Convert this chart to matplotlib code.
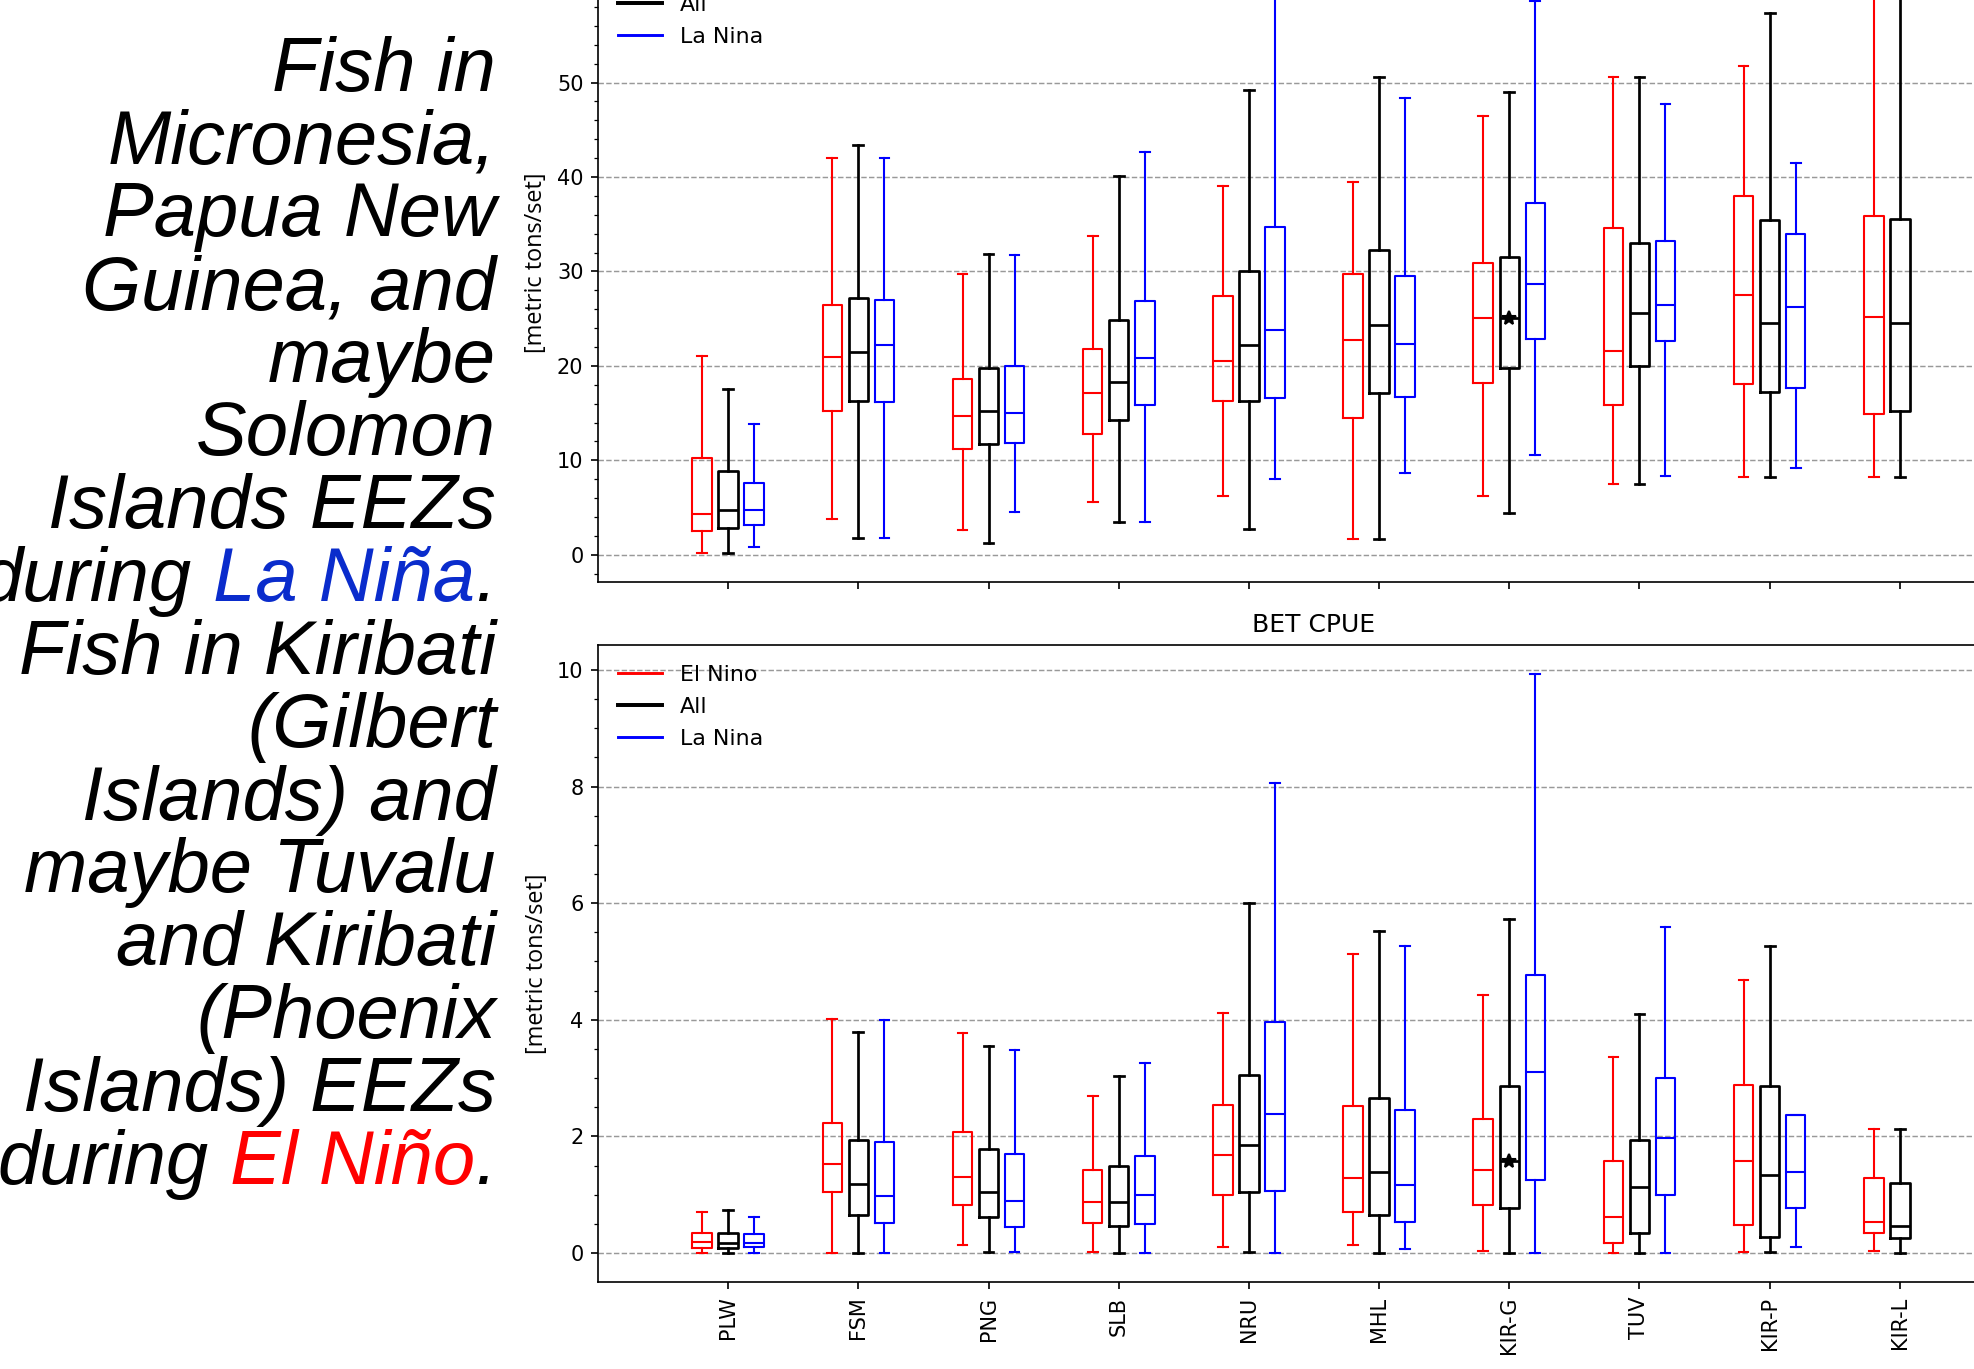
import numpy as np
import matplotlib
matplotlib.use('Agg')
import matplotlib.pyplot as plt
from matplotlib.lines import Line2D

regions = ['PLW', 'FSM', 'PNG', 'SLB', 'NRU', 'MHL', 'KIR-G', 'TUV', 'KIR-P', 'KIR-L']

# five-number summaries: (low whisker, q1, median, q3, high whisker)
top_elnino = [(0.2, 2.5, 4.3, 10.2, 21.0), (3.8, 15.2, 20.9, 26.4, 42.0),
              (2.6, 11.2, 14.7, 18.6, 29.7), (5.6, 12.8, 17.1, 21.8, 33.8),
              (6.2, 16.3, 20.5, 27.4, 39.0), (1.7, 14.5, 22.7, 29.7, 39.5),
              (6.2, 18.2, 25.1, 30.9, 46.5), (7.5, 15.9, 21.6, 34.6, 50.6),
              (8.2, 18.1, 27.5, 38.0, 51.8), (8.2, 14.9, 25.2, 35.9, 61.5)]
top_all = [(0.2, 2.8, 4.8, 8.9, 17.6), (1.8, 16.3, 21.5, 27.2, 43.4),
           (1.3, 11.7, 15.2, 19.8, 31.9), (3.5, 14.3, 18.3, 24.9, 40.1),
           (2.7, 16.3, 22.2, 30.0, 49.2), (1.7, 17.1, 24.3, 32.3, 50.6),
           (4.4, 19.8, 25.1, 31.5, 49.0), (7.5, 20.0, 25.6, 33.0, 50.6),
           (8.2, 17.2, 24.5, 35.4, 57.4), (8.2, 15.2, 24.5, 35.6, 61.7)]
top_lanina = [(0.8, 3.2, 4.8, 7.6, 13.9), (1.8, 16.2, 22.2, 27.0, 42.0),
              (4.5, 11.8, 15.0, 20.0, 31.7), (3.5, 15.9, 20.8, 26.9, 42.7),
              (8.0, 16.6, 23.8, 34.7, 60.5), (8.7, 16.7, 22.3, 29.5, 48.4),
              (10.6, 22.8, 28.7, 37.2, 58.6), (8.4, 22.6, 26.5, 33.2, 47.7),
              (9.2, 17.7, 26.2, 34.0, 41.5), None]

bet_elnino = [(0.0, 0.08, 0.19, 0.35, 0.71), (0.0, 1.04, 1.53, 2.23, 4.02),
              (0.13, 0.83, 1.30, 2.07, 3.78), (0.01, 0.52, 0.87, 1.43, 2.69),
              (0.11, 1.00, 1.68, 2.54, 4.12), (0.14, 0.70, 1.29, 2.52, 5.13),
              (0.04, 0.82, 1.42, 2.29, 4.43), (0.0, 0.18, 0.61, 1.57, 3.36),
              (0.01, 0.48, 1.57, 2.89, 4.68), (0.03, 0.34, 0.54, 1.29, 2.12)]
bet_all = [(0.0, 0.09, 0.17, 0.34, 0.74), (0.0, 0.66, 1.19, 1.94, 3.79),
           (0.01, 0.61, 1.05, 1.78, 3.55), (0.0, 0.46, 0.87, 1.50, 3.04),
           (0.01, 1.04, 1.85, 3.06, 6.00), (0.0, 0.65, 1.39, 2.66, 5.53),
           (0.0, 0.78, 1.58, 2.86, 5.72), (0.0, 0.35, 1.13, 1.94, 4.10),
           (0.01, 0.28, 1.34, 2.87, 5.27), (0.0, 0.26, 0.47, 1.20, 2.12)]
bet_lanina = [(0.0, 0.11, 0.17, 0.32, 0.62), (0.0, 0.51, 0.97, 1.90, 3.99),
              (0.01, 0.45, 0.90, 1.70, 3.48), (0.0, 0.49, 0.99, 1.66, 3.26),
              (0.0, 1.06, 2.39, 3.96, 8.06), (0.07, 0.53, 1.16, 2.46, 5.26),
              (0.0, 1.25, 3.11, 4.77, 9.93), (0.0, 0.99, 1.97, 3.01, 5.59),
              (0.11, 0.78, 1.39, 2.36, 2.37), None]

# black star marker on the KIR-G "All" box
star_region = 'KIR-G'
star_top = 25.1
star_bet = 1.58

text_lines = [
    [('Fish in', 'k')],
    [('Micronesia,', 'k')],
    [('Papua New', 'k')],
    [('Guinea, and', 'k')],
    [('maybe', 'k')],
    [('Solomon', 'k')],
    [('Islands EEZs', 'k')],
    [('during', 'k'), (' La Niña', '#0a2ccc'), ('.', 'k')],
    [('Fish in Kiribati', 'k')],
    [('(Gilbert', 'k')],
    [('Islands) and', 'k')],
    [('maybe Tuvalu', 'k')],
    [('and Kiribati', 'k')],
    [('(Phoenix', 'k')],
    [('Islands) EEZs', 'k')],
    [('during', 'k'), (' El Niño', '#ff0000'), ('.', 'k')],
]

W, H = 1974, 1369
fig = plt.figure(figsize=(W / 150, H / 150), dpi=150)

ax_left, ax_right = 598, 2030
ax_top = fig.add_axes([ax_left / W, 1 - 582 / H, (ax_right - ax_left) / W, 639 / H])
ax_bet = fig.add_axes([ax_left / W, 1 - 1282 / H, (ax_right - ax_left) / W, 637 / H])

series = [('El Nino', 'red', -0.2, 1.0), ('All', 'black', 0.0, 1.3), ('La Nina', 'blue', 0.2, 1.0)]
pos = np.arange(1, len(regions) + 1)


def draw_boxes(ax, data_sets):
    for (label, col, off, lw), data in zip(series, data_sets):
        stats, p = [], []
        for i, d in enumerate(data):
            if d is None:
                continue
            lo, q1, med, q3, hi = d
            stats.append(dict(whislo=lo, q1=q1, med=med, q3=q3, whishi=hi, fliers=[]))
            p.append(pos[i] + off)
        props = dict(color=col, linewidth=lw)
        ax.bxp(stats, positions=p, widths=0.15, showfliers=False, manage_ticks=False,
               boxprops=props, whiskerprops=props, capprops=props, medianprops=props)
    ax.set_xlim(0, 11)
    ax.set_xticks(pos)
    ax.minorticks_on()
    ax.tick_params(axis='x', which='minor', bottom=False)
    ax.grid(axis='y', which='major', linestyle='--', color='0.6', linewidth=0.7)
    ax.set_axisbelow(True)
    ax.set_ylabel('[metric tons/set]', fontfamily='Open Sans', fontsize=11.3)
    handles = [Line2D([], [], color=c, lw=1.4 if c != 'black' else 1.9) for _, c, _, _ in series]
    ax.legend(handles, [s[0] for s in series], loc='upper left', frameon=False,
              fontsize=10.6, labelspacing=0.55)


draw_boxes(ax_top, [top_elnino, top_all, top_lanina])
draw_boxes(ax_bet, [bet_elnino, bet_all, bet_lanina])

k = regions.index(star_region)
ax_top.plot(pos[k], star_top, marker='*', color='k', ms=7, zorder=5)
ax_bet.plot(pos[k], star_bet, marker='*', color='k', ms=7, zorder=5)

ax_top.tick_params(axis='x', labelbottom=False)
ax_bet.set_xticklabels(regions, rotation=90)
ax_bet.set_title('BET CPUE')

# big italic caption on the left, right aligned
font = dict(fontfamily='Liberation Sans', style='italic', fontsize=36.5)
x_right = 496 / W
for i, runs in enumerate(text_lines):
    y = 1 - (90.6 + i * 72.9) / H
    prev = None
    for s, c in reversed(runs):
        if prev is None:
            prev = fig.text(x_right, y, s, color=c, ha='right', va='baseline', **font)
        else:
            prev = ax_bet.annotate(s, xy=(0, 0), xycoords=prev, ha='right', va='bottom',
                                   color=c, annotation_clip=False, **font)

fig.savefig('out.png', dpi=150)
